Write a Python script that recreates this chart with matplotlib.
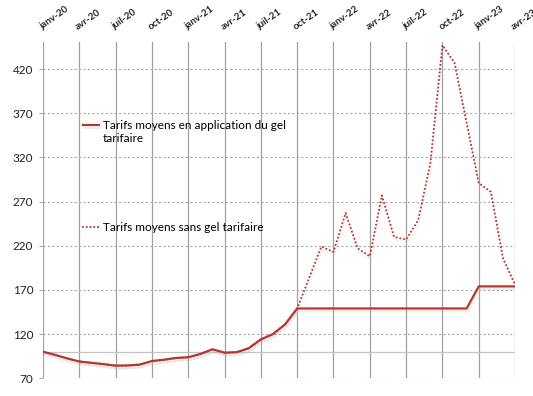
import matplotlib
matplotlib.use("Agg")
import matplotlib.pyplot as plt
import matplotlib.patheffects as pe
from matplotlib.lines import Line2D

plt.rcParams['font.family'] = ['Lato', 'DejaVu Sans']

# Months Jan-2020 .. Apr-2023 (40 monthly points)
quarter_labels = ["janv-20", "avr-20", "juil-20", "oct-20", "janv-21", "avr-21", "juil-21",
                  "oct-21", "janv-22", "avr-22", "juil-22", "oct-22", "janv-23", "avr-23"]

avec_gel = [100, 96.5, 92.5, 89, 87.5, 86, 84.3, 84.5, 85.5, 89.5, 91, 93, 93.8, 97.5, 102.8,
            99, 99.5, 104, 114, 120, 131, 149, 149, 149, 149, 149, 149, 149, 149, 149, 149,
            149, 149, 149, 149, 149, 174, 174, 174, 174]

sans_gel = [100, 96.5, 92.5, 89, 87.5, 86, 84.3, 84.5, 85.5, 89.5, 91, 93, 93.8, 97.5, 102.8,
            99, 99.5, 104, 114, 120, 131, 149, 184, 219, 213, 257, 217, 208, 277, 230, 227,
            249, 313, 447, 427, 359, 291, 281, 206, 176]

label_gel = "Tarifs moyens en application du gel"
label_gel2 = "tarifaire"
label_sans = "Tarifs moyens sans gel tarifaire"

yticks = [70, 120, 170, 220, 270, 320, 370, 420]

color = "#b5372d"

fig = plt.figure(figsize=(5.33, 3.96), dpi=100)
ax = fig.add_axes([0.0807, 0.0447, 0.8856, 0.8480])

months = list(range(len(avec_gel)))
shadow = [pe.SimpleLineShadow(offset=(0.8, -2.0), shadow_color="#bbbbbb", alpha=0.25),
          pe.Normal()]

l2, = ax.plot(months, sans_gel, color=color, lw=1.3, ls=(0, (1, 1.1)), zorder=3,
              path_effects=shadow)
l1, = ax.plot(months, avec_gel, color=color, lw=1.6, zorder=4, path_effects=shadow,
              solid_capstyle="butt")

ax.set_xlim(0, len(months) - 1)
ax.set_ylim(70, 450)

xt = list(range(0, len(months), 3))
ax.set_xticks(xt)
ax.set_xticklabels(quarter_labels, rotation=35, ha="left", va="bottom",
                   rotation_mode="anchor", fontsize=7, fontweight="bold", color="#222222")
ax.tick_params(axis="x", top=True, labeltop=True, bottom=False, labelbottom=False,
               length=0, pad=8)
ax.set_yticks(yticks)
ax.set_yticklabels([str(v) for v in yticks], fontsize=8.5, color="#222222")
ax.tick_params(axis="y", length=3, color="#aaaaaa", pad=4)

for x in xt:
    ax.axvline(x, color="#a0a0a0", lw=0.9, zorder=1)
for y in yticks:
    ax.axhline(y, color="#aaaaaa", lw=0.8, ls=(0, (2, 2)), zorder=1)
ax.axhline(100, color="#c4c4c4", lw=0.9, zorder=1)

for s in ax.spines.values():
    s.set_visible(False)

blank = Line2D([], [], color="none")
leg1 = ax.legend([l1, blank], [label_gel, label_gel2], loc="center left",
                 bbox_to_anchor=(0.0826, 0.733), frameon=False, fontsize=8.5,
                 handlelength=1.55, handletextpad=0.2, borderpad=0, borderaxespad=0,
                 labelspacing=0.2)
ax.add_artist(leg1)
handle_sans = Line2D([], [], color=color, lw=1.3, ls=(0, (1, 1.1)))
ax.legend([handle_sans], [label_sans], loc="center left",
          bbox_to_anchor=(0.0826, 0.4476), frameon=False, fontsize=8.5,
          handlelength=1.55, handletextpad=0.2, borderpad=0, borderaxespad=0)

fig.savefig("out.png", dpi=100)
